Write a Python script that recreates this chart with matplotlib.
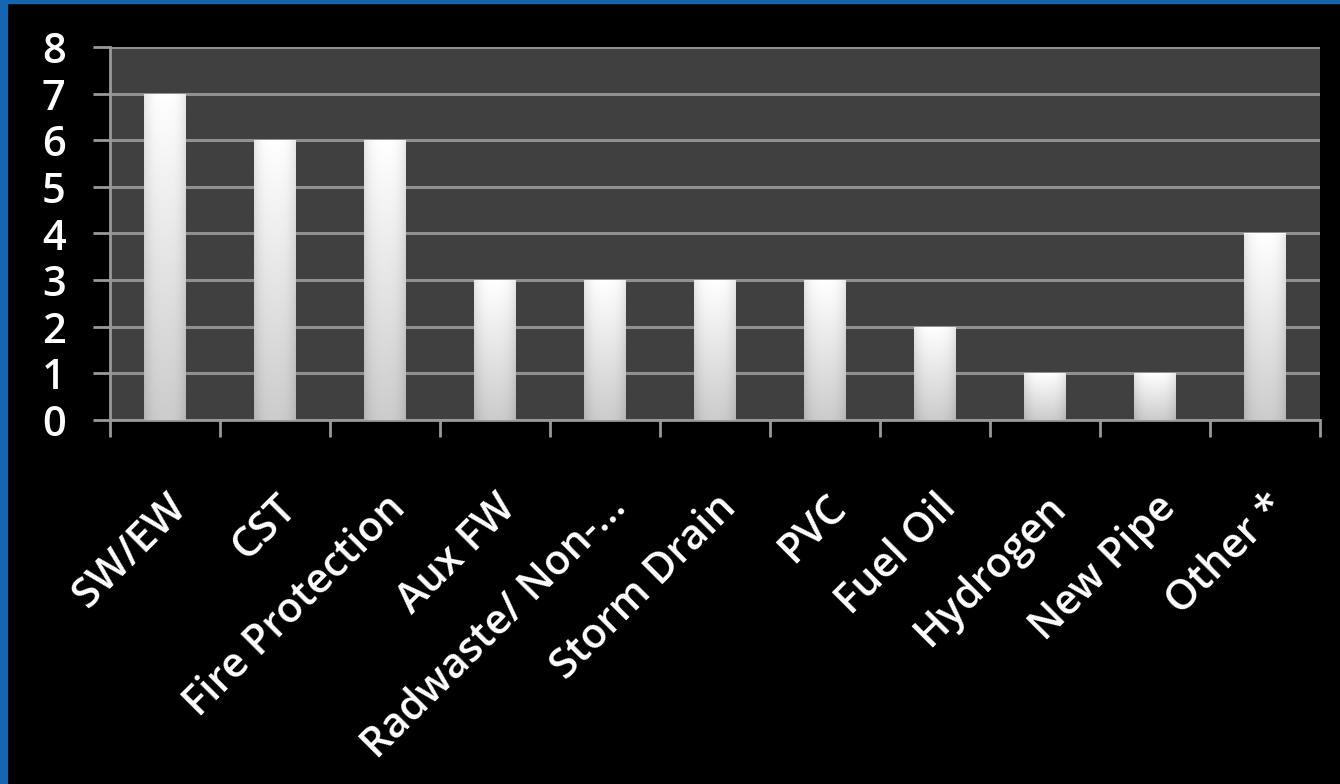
import matplotlib.pyplot as plt
import numpy as np
from matplotlib.patches import Rectangle
from matplotlib.transforms import ScaledTranslation

categories = ["SW/EW", "CST", "Fire Protection", "Aux FW", "Radwaste/ Non-...",
              "Storm Drain", "PVC", "Fuel Oil", "Hydrogen", "New Pipe", "Other *"]
counts = [7, 6, 6, 3, 3, 3, 3, 2, 1, 1, 4]
y_ticks = [0, 1, 2, 3, 4, 5, 6, 7, 8]

plt.rcParams['font.family'] = ['Open Sans', 'DejaVu Sans']

fig = plt.figure(figsize=(13.4, 7.84), dpi=100, facecolor="black")
# blue frame at the left and top edges
fig.patches.append(Rectangle((0, 0), 0.0050, 1, transform=fig.transFigure,
                             color="#1565b0", zorder=0))
fig.patches.append(Rectangle((0, 0.996), 1, 0.004, transform=fig.transFigure,
                             color="#1565b0", zorder=0))

ax = fig.add_axes([110/1340, 1 - 420/784, 1210/1340, 373/784])
ax.set_facecolor("#404040")

x = np.arange(len(categories))
bars = ax.bar(x, counts, width=0.38, color="white", zorder=3)

# shaded fill for each bar: bright top, grey bottom, darker edges
h = np.linspace(0, 1, 200)
v = np.linspace(0, 1, 200)
H, V = np.meshgrid(h, v)
shade = 0.80 + 0.20 * V - 0.10 * (2 * np.abs(H - 0.5)) ** 3
for b in bars:
    bx, by = b.get_x(), b.get_y()
    bw, bh = b.get_width(), b.get_height()
    im = ax.imshow(shade, extent=[bx, bx + bw, by, by + bh], origin="lower",
                   cmap="gray", vmin=0, vmax=1, aspect="auto", zorder=4)
    im.set_clip_path(b)

ax.set_xlim(-0.5, len(categories) - 0.5)
ax.set_ylim(0, 8)
ax.set_yticks(y_ticks)
ax.set_yticklabels([str(t) for t in y_ticks], fontweight="semibold")
ax.yaxis.grid(True, color="#909090", linewidth=2.2, zorder=1)
ax.set_axisbelow(True)

# category boundary ticks on x
ax.set_xticks(np.arange(-0.5, len(categories)), minor=False)
ax.set_xticklabels([])
ax.tick_params(axis="x", length=12, width=2, color="#999999", direction="out")
ax.set_xticks(x, minor=True)
labels = ax.set_xticklabels(categories, minor=True, rotation=45, ha="right",
                            rotation_mode="anchor", fontsize=30, color="white",
                            fontweight="semibold")
shift = ScaledTranslation(-12/100, 0, fig.dpi_scale_trans)
for lab in labels:
    lab.set_transform(lab.get_transform() + shift)
ax.tick_params(axis="x", which="minor", length=0, pad=48)
ax.tick_params(axis="y", length=12, width=2, color="#999999",
               labelsize=30, labelcolor="white", pad=20)

for s in ["left", "bottom"]:
    ax.spines[s].set_color("#999999")
    ax.spines[s].set_linewidth(2)
for s in ["top", "right"]:
    ax.spines[s].set_visible(False)

fig.savefig("out.png", dpi=100, facecolor="black")
